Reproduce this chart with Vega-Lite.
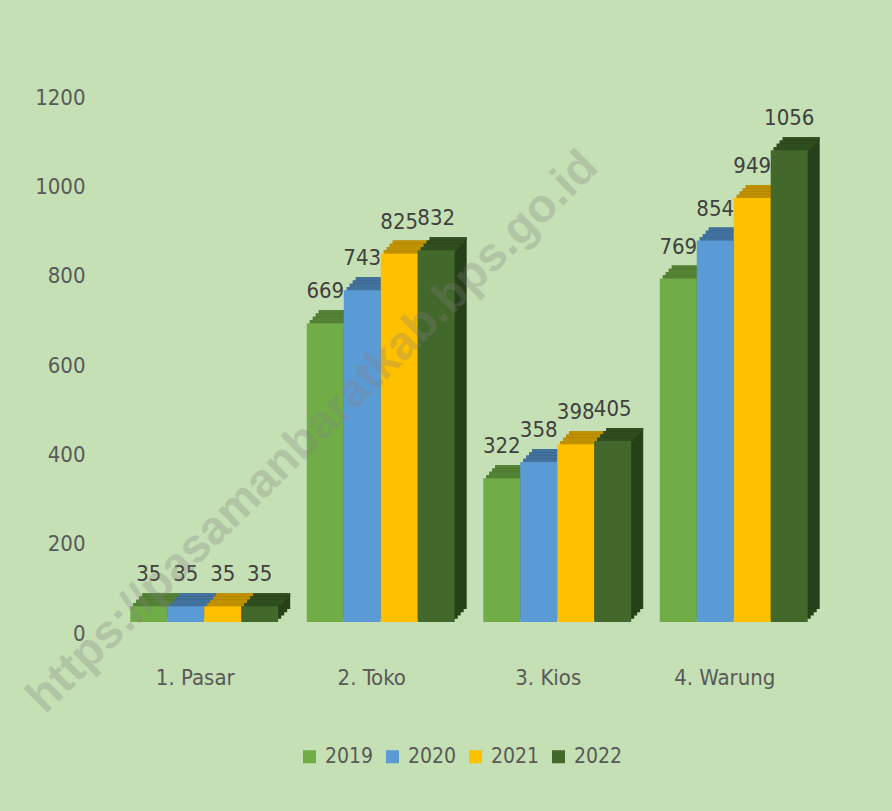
{
  "$schema": "https://vega.github.io/schema/vega-lite/v6.json",
  "width": 706,
  "height": 536,
  "autosize": {"type": "none"},
  "padding": {"left": 116, "top": 86, "right": 70, "bottom": 189},
  "background": "#c5e0b4",
  "config": {"view": {"stroke": null}, "font": "DejaVu Sans Condensed, Liberation Sans Narrow, Roboto, sans-serif"},
  "layer": [
    {
      "data": {"values": [
        {"Jenis": "1. Pasar", "Tahun": "2019", "Jumlah": 35},
        {"Jenis": "1. Pasar", "Tahun": "2020", "Jumlah": 35},
        {"Jenis": "1. Pasar", "Tahun": "2021", "Jumlah": 35},
        {"Jenis": "1. Pasar", "Tahun": "2022", "Jumlah": 35},
        {"Jenis": "2. Toko", "Tahun": "2019", "Jumlah": 669},
        {"Jenis": "2. Toko", "Tahun": "2020", "Jumlah": 743},
        {"Jenis": "2. Toko", "Tahun": "2021", "Jumlah": 825},
        {"Jenis": "2. Toko", "Tahun": "2022", "Jumlah": 832},
        {"Jenis": "3. Kios", "Tahun": "2019", "Jumlah": 322},
        {"Jenis": "3. Kios", "Tahun": "2020", "Jumlah": 358},
        {"Jenis": "3. Kios", "Tahun": "2021", "Jumlah": 398},
        {"Jenis": "3. Kios", "Tahun": "2022", "Jumlah": 405},
        {"Jenis": "4. Warung", "Tahun": "2019", "Jumlah": 769},
        {"Jenis": "4. Warung", "Tahun": "2020", "Jumlah": 854},
        {"Jenis": "4. Warung", "Tahun": "2021", "Jumlah": 949},
        {"Jenis": "4. Warung", "Tahun": "2022", "Jumlah": 1056}
      ]},
      "encoding": {
        "x": {
          "field": "Jenis", "type": "nominal", "sort": null,
          "scale": {"paddingInner": 0.162, "paddingOuter": 0.081},
          "axis": {"title": null, "labelAngle": 0, "labelFontSize": 22, "labelColor": "#595959", "labelPadding": 55, "labelBaseline": "middle", "labelOffset": -9, "domain": false, "ticks": false, "grid": false}
        },
        "y": {
          "field": "Jumlah", "type": "quantitative",
          "scale": {"domain": [0, 1200], "nice": false},
          "axis": {"title": null, "format": "d", "values": [0, 200, 400, 600, 800, 1000, 1200], "labelFontSize": 22, "labelColor": "#595959", "labelPadding": 31, "labelOffset": 11, "labelFlush": false, "domain": false, "ticks": false, "grid": false}
        }
      },
      "layer": [
        {
          "mark": {"type": "bar", "yOffset": -13, "y2Offset": -13},
          "encoding": {
            "xOffset": {"field": "Tahun", "type": "nominal", "sort": null, "scale": {"range": [12, 159.9]}},
            "y2": {"datum": 0},
            "color": {"field": "Tahun", "type": "nominal", "scale": {"range": ["#466d2c", "#365f84", "#a07800", "#27401a"]}, "legend": null}
          }
        },
        {
          "mark": {"type": "bar", "yOffset": -13, "y2Offset": -9.75},
          "encoding": {
            "xOffset": {"field": "Tahun", "type": "nominal", "sort": null, "scale": {"range": [12, 159.9]}},
            "y2": {"field": "Jumlah"},
            "color": {"field": "Tahun", "type": "nominal", "scale": {"range": ["#548235", "#41719c", "#bf9000", "#2f4d1f"]}, "legend": null}
          }
        },
        {
          "mark": {"type": "bar", "yOffset": -9.75, "y2Offset": -9.75},
          "encoding": {
            "xOffset": {"field": "Tahun", "type": "nominal", "sort": null, "scale": {"range": [9, 156.9]}},
            "y2": {"datum": 0},
            "color": {"field": "Tahun", "type": "nominal", "scale": {"range": ["#466d2c", "#365f84", "#a07800", "#27401a"]}, "legend": null}
          }
        },
        {
          "mark": {"type": "bar", "yOffset": -9.75, "y2Offset": -6.5},
          "encoding": {
            "xOffset": {"field": "Tahun", "type": "nominal", "sort": null, "scale": {"range": [9, 156.9]}},
            "y2": {"field": "Jumlah"},
            "color": {"field": "Tahun", "type": "nominal", "scale": {"range": ["#548235", "#41719c", "#bf9000", "#2f4d1f"]}, "legend": null}
          }
        },
        {
          "mark": {"type": "bar", "yOffset": -6.5, "y2Offset": -6.5},
          "encoding": {
            "xOffset": {"field": "Tahun", "type": "nominal", "sort": null, "scale": {"range": [6, 153.9]}},
            "y2": {"datum": 0},
            "color": {"field": "Tahun", "type": "nominal", "scale": {"range": ["#466d2c", "#365f84", "#a07800", "#27401a"]}, "legend": null}
          }
        },
        {
          "mark": {"type": "bar", "yOffset": -6.5, "y2Offset": -3.25},
          "encoding": {
            "xOffset": {"field": "Tahun", "type": "nominal", "sort": null, "scale": {"range": [6, 153.9]}},
            "y2": {"field": "Jumlah"},
            "color": {"field": "Tahun", "type": "nominal", "scale": {"range": ["#548235", "#41719c", "#bf9000", "#2f4d1f"]}, "legend": null}
          }
        },
        {
          "mark": {"type": "bar", "yOffset": -3.25, "y2Offset": -3.25},
          "encoding": {
            "xOffset": {"field": "Tahun", "type": "nominal", "sort": null, "scale": {"range": [3, 150.9]}},
            "y2": {"datum": 0},
            "color": {"field": "Tahun", "type": "nominal", "scale": {"range": ["#466d2c", "#365f84", "#a07800", "#27401a"]}, "legend": null}
          }
        },
        {
          "mark": {"type": "bar", "yOffset": -3.25, "y2Offset": 0},
          "encoding": {
            "xOffset": {"field": "Tahun", "type": "nominal", "sort": null, "scale": {"range": [3, 150.9]}},
            "y2": {"field": "Jumlah"},
            "color": {"field": "Tahun", "type": "nominal", "scale": {"range": ["#548235", "#41719c", "#bf9000", "#2f4d1f"]}, "legend": null}
          }
        },
        {
          "mark": {"type": "bar"},
          "encoding": {
            "xOffset": {"field": "Tahun", "type": "nominal", "sort": null, "scale": {"range": [0, 147.9]}},
            "color": {"field": "Tahun", "type": "nominal", "scale": {"range": ["#70ad47", "#5b9bd5", "#ffc000", "#43682b"]},
              "legend": {"title": null, "orient": "none", "direction": "horizontal", "legendX": 183, "legendY": 660, "symbolType": "square", "symbolSize": 169, "symbolStrokeWidth": 0, "labelFontSize": 21, "labelColor": "#595959", "columnPadding": 8, "labelOffset": 5}}
          }
        },
        {
          "mark": {"type": "text", "dy": -25, "baseline": "alphabetic", "fontSize": 22, "color": "#404040"},
          "encoding": {
            "xOffset": {"field": "Tahun", "type": "nominal", "sort": null, "scale": {"range": [0, 147.9]}},
            "text": {"field": "Jumlah"}
          }
        }
      ],
      "resolve": {"scale": {"color": "independent", "xOffset": "independent"}, "legend": {"color": "independent"}}
    },
    {
      "data": {"values": [{"teks": "https://pasamanbaratkab.bps.go.id", "Jenis": "2. Toko", "Jumlah": 425}]},
      "mark": {"type": "text", "font": "Liberation Sans", "fontWeight": "bold", "fontSize": 47, "angle": 315.5, "align": "center", "baseline": "middle", "color": "#808080", "opacity": 0.28, "xOffset": -68},
      "encoding": {
        "x": {"field": "Jenis", "type": "nominal"},
        "y": {"field": "Jumlah", "type": "quantitative"},
        "text": {"field": "teks"}
      }
    }
  ]
}
